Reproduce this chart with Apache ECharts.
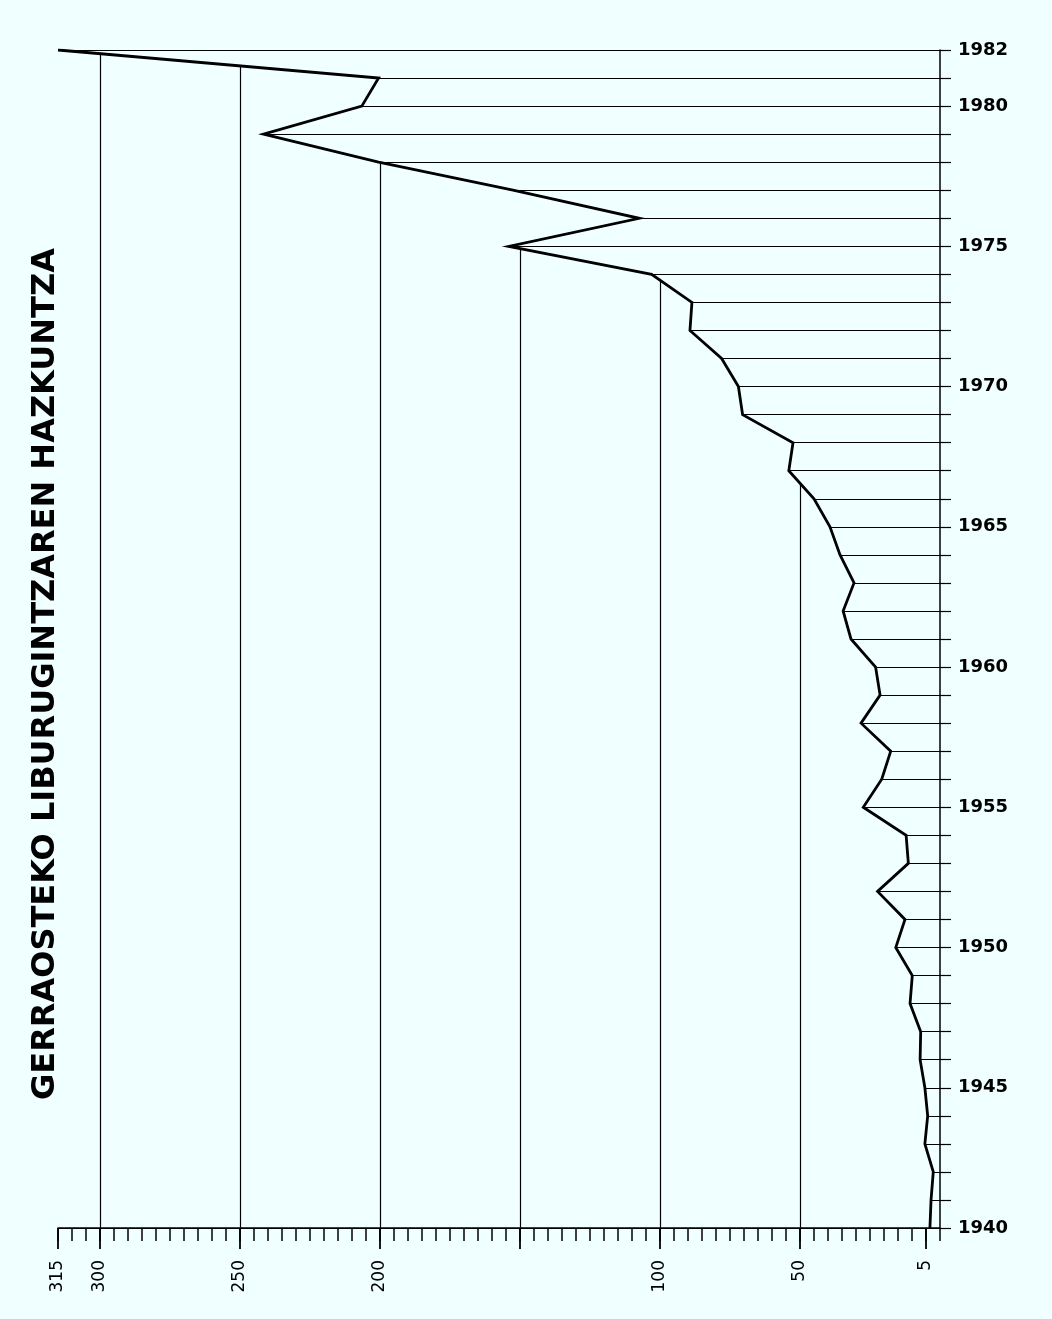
<!DOCTYPE html>
<html>
<head>
<meta charset="utf-8">
<script src="https://cdn.jsdelivr.net/npm/echarts@6/dist/echarts.min.js"></script>
<style>
html,body{margin:0;padding:0;background:#f0ffff;}
#c{width:1052px;height:1319px;}
</style>
</head>
<body>
<div id="c"></div>
<script>
const years = ['1940','1941','1942','1943','1944','1945','1946','1947','1948','1949',
  '1950','1951','1952','1953','1954','1955','1956','1957','1958','1959',
  '1960','1961','1962','1963','1964','1965','1966','1967','1968','1969',
  '1970','1971','1972','1973','1974','1975','1976','1977','1978','1979',
  '1980','1981','1982'];
const books = [3.6, 3.2, 2.4, 5.4, 4.4, 5.4, 7.1, 6.9, 10.7, 9.9,
  15.8, 12.5, 22.3, 11.3, 12.1, 27.4, 20.8, 17.6, 28.2, 21.4,
  23, 31.8, 34.6, 30.7, 35.7, 39.3, 45, 54, 52.5, 70.5,
  72, 78, 89.3, 88.6, 103, 154, 107.4, 152.5, 200.5, 241.6,
  206.5, 200.5, 315];
const yearLabels = ['1940','1945','1950','1955','1960','1965','1970','1975','1980','1982'];
const valueLabels = [5, 50, 100, 200, 250, 300, 315];
const longTicks = [5, 50, 100, 150, 200, 250, 300, 315];
const gridValues = [50, 100, 150, 200, 250, 300];
const titleText = 'GERRAOSTEKO LIBURUGINTZAREN HAZKUNTZA';

const BG = '#f0ffff';
const chart = echarts.init(document.getElementById('c'), null, {renderer: 'canvas'});

function renderGridLine(params, api) {
  const v = api.value(0);
  let i = 0;
  while (i < books.length - 1 && !(books[i] < v && books[i + 1] >= v)) i++;
  const base = api.coord([v, 0]);
  const p1 = api.coord([books[i], i]);
  const p2 = api.coord([books[i + 1], i + 1]);
  const t = (v - books[i]) / (books[i + 1] - books[i]);
  const yTop = p1[1] + t * (p2[1] - p1[1]);
  const x = Math.round(base[0]) + 0.5;
  return {
    type: 'line',
    shape: {x1: x, y1: base[1], x2: x, y2: yTop},
    style: {stroke: '#000', lineWidth: 1.2}
  };
}

const option = {
  backgroundColor: BG,
  animation: false,
  grid: {left: 58, right: 112, top: 50, bottom: 91, containLabel: false},
  xAxis: [
    {
      type: 'value', min: 0, max: 315, interval: 50, inverse: true, position: 'bottom',
      axisLine: {show: false},
      splitLine: {show: false},
      axisTick: {show: true, customValues: longTicks, length: 21, lineStyle: {color: '#000', width: 1.8}},
      axisLabel: {
        show: true, customValues: valueLabels, rotate: 90, margin: 32,
        fontFamily: 'DejaVu Sans', fontSize: 17, color: '#000'
      }
    },
    {
      type: 'value', min: 0, max: 315, interval: 5, inverse: true, position: 'bottom', z: 5,
      axisLine: {show: true, onZero: false, lineStyle: {color: '#000', width: 1.5}},
      splitLine: {show: false},
      axisTick: {show: true, length: 13, lineStyle: {color: '#000', width: 1.5}},
      axisLabel: {show: false}
    }
  ],
  yAxis: {
    type: 'category', data: years, boundaryGap: false, position: 'right',
    axisLine: {show: true, lineStyle: {color: '#000', width: 1.5}},
    axisTick: {show: true, interval: 0, length: 11, lineStyle: {color: '#000', width: 1.2}},
    axisLabel: {
      interval: function (i, v) { return yearLabels.indexOf(v) >= 0; },
      fontFamily: 'DejaVu Sans', fontWeight: 'bold', fontSize: 18, color: '#000', margin: 18
    },
    splitLine: {show: true, interval: 0, lineStyle: {color: '#000', width: 1}}
  },
  series: [
    {
      type: 'line',
      xAxisIndex: 0, yAxisIndex: 0,
      data: books.map(function (v, i) { return [v, years[i]]; }),
      symbol: 'none',
      silent: true,
      lineStyle: {color: '#000', width: 2.8, join: 'miter'},
      areaStyle: {color: BG, opacity: 1, origin: 'end'},
      z: 2
    },
    {
      type: 'custom',
      xAxisIndex: 0, yAxisIndex: 0,
      data: gridValues.map(function (v) { return [v, 0]; }),
      encode: {x: 0, y: 1},
      renderItem: renderGridLine,
      silent: true,
      z: 3
    }
  ],
  graphic: [{
    type: 'text', x: 46, y: 674, rotation: Math.PI / 2,
    style: {
      text: titleText, fill: '#000',
      font: 'bold 32px "DejaVu Sans"', align: 'center', verticalAlign: 'middle'
    }
  }]
};
chart.setOption(option);
</script>
</body>
</html>
